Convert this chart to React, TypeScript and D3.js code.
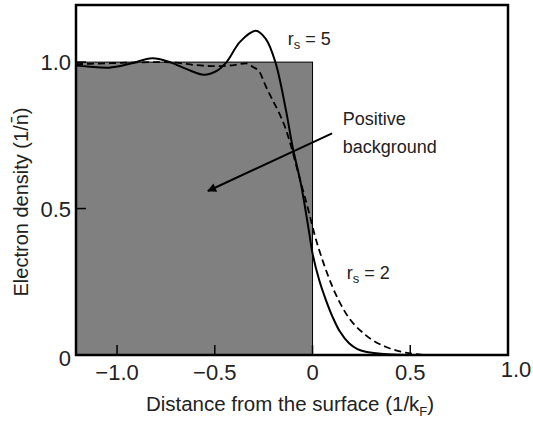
import { useEffect, useRef } from 'react';
import * as d3 from 'd3';

const W = 533;
const H = 421;
const MARGIN = { top: 5, right: 25, bottom: 66, left: 76 };

// r_s = 5 (solid) — Friedel oscillations
const rs5X = [-1.21, -1.15, -1.04, -0.93, -0.82, -0.73, -0.64, -0.555, -0.49, -0.44, -0.37, -0.29, -0.24, -0.19, -0.136, -0.102, -0.06, -0.02, 0, 0.034, 0.07, 0.102, 0.14, 0.187, 0.23, 0.272, 0.35, 0.44, 0.545];
const rs5Y = [0.988, 0.985, 0.981, 0.995, 1.013, 1.0, 0.975, 0.957, 0.97, 1.0, 1.07, 1.107, 1.08, 1.0, 0.836, 0.711, 0.586, 0.43, 0.347, 0.256, 0.185, 0.131, 0.08, 0.04, 0.02, 0.011, 0.004, 0.001, 0];

// r_s = 2 (dashed)
const rs2X = [-1.21, -1.1, -1.0, -0.9, -0.8, -0.7, -0.6, -0.5, -0.4, -0.34, -0.306, -0.27, -0.238, -0.204, -0.17, -0.136, -0.119, -0.068, -0.017, 0.009, 0.051, 0.102, 0.17, 0.272, 0.374, 0.476, 0.58];
const rs2Y = [0.993, 0.995, 0.997, 0.999, 1.0, 0.998, 0.99, 0.986, 0.99, 0.996, 0.984, 0.965, 0.916, 0.87, 0.825, 0.77, 0.734, 0.609, 0.484, 0.415, 0.324, 0.233, 0.143, 0.068, 0.028, 0.008, 0];

const xTicks = [-1.0, -0.5, 0, 0.5];
const xTickLabels = ['\u22121.0', '\u22120.5', '0', '0.5'];
const yTicks = [0, 0.5, 1.0];
const yTickLabels = ['0', '0.5', '1.0'];

const FONT = '"Liberation Sans", Arial, Helvetica, sans-serif';

export default function App() {
  const ref = useRef<SVGSVGElement>(null);

  useEffect(() => {
    if (!ref.current) return;
    const svg = d3.select(ref.current);
    svg.selectAll('*').remove();

    const innerW = W - MARGIN.left - MARGIN.right;
    const innerH = H - MARGIN.top - MARGIN.bottom;
    const x = d3.scaleLinear().domain([-1.21, 1.0]).range([0, innerW]);
    const y = d3.scaleLinear().domain([0, 1.195]).range([innerH, 0]);

    const g = svg.append('g').attr('transform', `translate(${MARGIN.left},${MARGIN.top})`);

    // arrow marker
    svg.append('defs').append('marker')
      .attr('id', 'arrowhead')
      .attr('viewBox', '0 0 10 10')
      .attr('refX', 9).attr('refY', 5)
      .attr('markerWidth', 12).attr('markerHeight', 9)
      .attr('markerUnits', 'userSpaceOnUse')
      .attr('orient', 'auto')
      .append('path').attr('d', 'M0,0 L10,5 L0,10 Z').attr('fill', '#000');

    // positive background
    g.append('rect')
      .attr('x', x(-1.21)).attr('y', y(1))
      .attr('width', x(0) - x(-1.21)).attr('height', y(0) - y(1))
      .attr('fill', '#808080').attr('stroke', '#000').attr('stroke-width', 1);

    // ticks (inward)
    xTicks.forEach(t => {
      g.append('line')
        .attr('x1', x(t)).attr('x2', x(t))
        .attr('y1', innerH).attr('y2', innerH - 10)
        .attr('stroke', '#000').attr('stroke-width', 1.5);
    });
    yTicks.forEach(t => {
      g.append('line')
        .attr('x1', 0).attr('x2', 10)
        .attr('y1', y(t)).attr('y2', y(t))
        .attr('stroke', '#000').attr('stroke-width', 1.5);
    });

    const line = d3.line<[number, number]>()
      .x(d => x(d[0])).y(d => y(d[1]))
      .curve(d3.curveMonotoneX);

    g.append('path')
      .datum(rs2X.map((v, i) => [v, rs2Y[i]] as [number, number]))
      .attr('d', line)
      .attr('fill', 'none').attr('stroke', '#000')
      .attr('stroke-width', 1.8).attr('stroke-dasharray', '7,4');

    g.append('path')
      .datum(rs5X.map((v, i) => [v, rs5Y[i]] as [number, number]))
      .attr('d', d3.line<[number, number]>().x(d => x(d[0])).y(d => y(d[1])).curve(d3.curveCatmullRom.alpha(0.5)))
      .attr('fill', 'none').attr('stroke', '#000').attr('stroke-width', 2);

    // frame
    g.append('rect')
      .attr('x', 0).attr('y', 0).attr('width', innerW).attr('height', innerH)
      .attr('fill', 'none').attr('stroke', '#000').attr('stroke-width', 2.5);

    // tick labels
    xTicks.forEach((t, i) => {
      g.append('text')
        .attr('x', x(t)).attr('y', innerH + 25)
        .attr('text-anchor', 'middle')
        .attr('font-family', FONT).attr('font-size', 22).attr('fill', '#222')
        .text(xTickLabels[i]);
    });
    g.append('text')
      .attr('x', x(1.0) + 8).attr('y', innerH + 22)
      .attr('text-anchor', 'middle')
      .attr('font-family', FONT).attr('font-size', 22).attr('fill', '#222')
      .text('1.0');
    yTicks.forEach((t, i) => {
      g.append('text')
        .attr('x', -5).attr('y', y(t) + (t === 0 ? 11 : 8))
        .attr('text-anchor', 'end')
        .attr('font-family', FONT).attr('font-size', 22).attr('fill', '#222')
        .text(yTickLabels[i]);
    });

    // axis titles
    const xt = g.append('text')
      .attr('x', innerW / 2 - 2).attr('y', innerH + 56)
      .attr('text-anchor', 'middle')
      .attr('font-family', FONT).attr('font-size', 20.5).attr('fill', '#222');
    xt.append('tspan').text('Distance from the surface (1/k');
    xt.append('tspan').attr('font-size', 13).attr('dy', 5).text('F');
    xt.append('tspan').attr('dy', -5).text(')');

    g.append('text')
      .attr('transform', `translate(-48,${innerH / 2 + 22}) rotate(-90)`)
      .attr('text-anchor', 'middle')
      .attr('font-family', FONT).attr('font-size', 20).attr('fill', '#222')
      .text('Electron density (1/n\u0304)');

    // curve labels
    const lab = (px: number, py: number, val: string) => {
      const t = g.append('text')
        .attr('x', px).attr('y', py)
        .attr('font-family', FONT).attr('font-size', 18).attr('fill', '#222');
      t.append('tspan').text('r');
      t.append('tspan').attr('font-size', 13).attr('dy', 4).text('s');
      t.append('tspan').attr('dy', -4).text(` = ${val}`);
    };
    lab(x(-0.127), y(1.06), '5');
    lab(x(0.175), y(0.26), '2');

    g.append('text')
      .attr('x', x(0.155)).attr('y', y(0.785))
      .attr('font-family', FONT).attr('font-size', 18).attr('fill', '#222')
      .text('Positive');
    g.append('text')
      .attr('x', x(0.155)).attr('y', y(0.69))
      .attr('font-family', FONT).attr('font-size', 18).attr('fill', '#222')
      .text('background');

    // arrow
    g.append('line')
      .attr('x1', x(0.1)).attr('y1', y(0.757))
      .attr('x2', x(-0.535)).attr('y2', y(0.56))
      .attr('stroke', '#000').attr('stroke-width', 2)
      .attr('marker-end', 'url(#arrowhead)');
  }, []);

  return (
    <svg ref={ref} width={W} height={H} style={{ position: 'absolute', left: 0, top: 0, background: '#fff' }} />
  );
}
